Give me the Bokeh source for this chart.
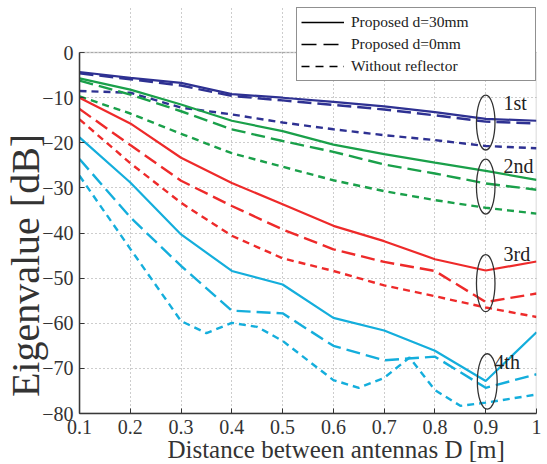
from bokeh.plotting import figure
from bokeh.models import Range1d, FixedTicker, Legend, LegendItem, BoxAnnotation
from bokeh.core.properties import value
from bokeh.embed import file_html
from bokeh.resources import INLINE

# ---------------- data ----------------
x_d = [0.1, 0.2, 0.3, 0.4, 0.5, 0.6, 0.7, 0.8, 0.9, 1.0]

blue_30 = [-4.3, -5.6, -6.7, -9.2, -10.0, -10.9, -11.9, -13.2, -14.7, -15.1]
blue_0 = [-4.6, -5.9, -7.3, -9.6, -10.6, -11.6, -12.6, -13.9, -15.3, -15.7]
blue_wo = [-8.5, -8.9, -12.2, -13.7, -15.5, -17.0, -18.3, -19.4, -20.7, -21.2]

green_30 = [-5.7, -8.2, -11.5, -15.1, -17.4, -20.4, -22.5, -24.4, -26.2, -28.2]
green_0 = [-6.2, -9.3, -13.0, -17.0, -19.6, -22.0, -24.8, -26.8, -29.0, -30.4]
green_wo = [-9.7, -13.5, -18.0, -22.3, -25.3, -28.3, -30.7, -32.7, -34.4, -35.7]

red_30 = [-10.0, -15.7, -23.3, -28.9, -33.6, -38.4, -41.8, -45.8, -48.3, -46.3]
red_0 = [-12.5, -20.5, -28.4, -34.0, -39.2, -43.6, -46.4, -48.4, -55.3, -53.4]
red_wo = [-14.8, -24.5, -33.3, -40.6, -45.6, -48.4, -51.6, -54.0, -56.5, -58.6]

cyan_30 = [-18.8, -28.8, -40.3, -48.4, -51.4, -58.8, -61.6, -66.1, -72.8, -62.0]
cyan_0 = [-23.6, -36.5, -47.3, -57.2, -57.8, -65.0, -68.2, -67.4, -74.3, -71.3]
x_cyan_wo = [0.1, 0.2, 0.3, 0.35, 0.4, 0.45, 0.5, 0.6, 0.65, 0.7, 0.75, 0.8, 0.85, 0.9, 1.0]
cyan_wo = [-27.3, -43.5, -59.5, -62.2, -59.9, -60.8, -63.9, -72.6, -74.3, -72.1, -67.6, -74.8, -78.3, -77.6, -75.8]

series_names = ["Proposed d=30mm", "Proposed d=0mm", "Without reflector"]

rank_labels = ["1st", "2nd", "3rd", "4th"]
rank_label_x = [0.935, 0.935, 0.935, 0.917]
rank_label_y = [-11.1, -25.1, -44.7, -68.6]

ell_x = [0.9, 0.9, 0.9, 0.903]
ell_y = [-15.5, -29.7, -51.1, -72.9]
ell_h = [12.2, 12.2, 12.7, 12.3]
ell_w = [0.0365, 0.0365, 0.0365, 0.039]

x_ticks = [0.1, 0.2, 0.3, 0.4, 0.5, 0.6, 0.7, 0.8, 0.9, 1.0]
x_tick_labels = ["0.1", "0.2", "0.3", "0.4", "0.5", "0.6", "0.7", "0.8", "0.9", "1"]
y_ticks = [-80, -70, -60, -50, -40, -30, -20, -10, 0]
y_tick_labels = ["\u221280", "\u221270", "\u221260", "\u221250", "\u221240", "\u221230", "\u221220", "\u221210", "0"]

x_title = "Distance between antennas D [m]"
y_title = "Eigenvalue [dB]"

# ---------------- styles ----------------
FONT = "Liberation Serif"
BLUE, GREEN, RED, CYAN = "#2E3192", "#1AA04A", "#EE2A2A", "#14AEDC"
LONG = "14 6"
SHORT = "7 5"
Y_MIN, Y_MAX, Y_TOP = -80, 0, 10.0
NB = "\u00a0"

p = figure(x_range=Range1d(0.1, 1.0), y_range=Range1d(Y_MIN, Y_TOP),
           frame_width=457, frame_height=406,
           output_backend="svg", toolbar_location=None,
           min_border_left=78, min_border_right=12, min_border_top=7, min_border_bottom=51)
p.background_fill_color = "white"
p.border_fill_color = "white"
p.outline_line_color = None

for ax in (p.xaxis[0], p.yaxis[0]):
    ax.axis_line_color = "#333333"
    ax.axis_line_width = 1.5
    ax.major_tick_in = 5
    ax.major_tick_out = 0
    ax.minor_tick_line_color = None
    ax.major_tick_line_color = "#333333"
    ax.major_label_text_font = FONT
    ax.major_label_text_font_size = "20px"
    ax.major_label_text_color = "#333333"
    ax.major_label_standoff = 6
    ax.axis_label_text_font = FONT
    ax.axis_label_text_font_style = "normal"
    ax.axis_label_text_color = "#333333"

p.yaxis.bounds = (Y_MIN, Y_MAX)
p.xaxis.ticker = FixedTicker(ticks=x_ticks)
p.xaxis.major_label_overrides = {t: s for t, s in zip(x_ticks, x_tick_labels)}
p.yaxis.ticker = FixedTicker(ticks=y_ticks)
p.yaxis.major_label_overrides = {t: s for t, s in zip(y_ticks, y_tick_labels)}

# titles are centred on the frame; non-breaking padding moves them to where the reference has them
p.xaxis.axis_label = NB * 9 + x_title
p.xaxis.axis_label_text_font_size = "25px"
p.xaxis.axis_label_standoff = -1
p.yaxis.axis_label = y_title + NB * 11
p.yaxis.axis_label_text_font_size = "40px"
p.yaxis.axis_label_standoff = -9

p.xgrid.ticker = FixedTicker(ticks=x_ticks)
p.ygrid.ticker = FixedTicker(ticks=y_ticks)
p.xgrid.bounds = (Y_MIN, Y_MAX)
for g in (p.xgrid[0], p.ygrid[0]):
    g.grid_line_color = "#9a9a9a"
    g.grid_line_dash = "1 3"
    g.grid_line_width = 1

# plot box (top and right edges of the data area)
p.add_layout(BoxAnnotation(left=0.1, right=1.0, bottom=Y_MIN, top=Y_MAX,
                           fill_alpha=0, line_color="#555555", line_width=1.5))

# ---------------- lines ----------------
for col, s30, s0, swo, xwo in [
    (BLUE, blue_30, blue_0, blue_wo, x_d),
    (GREEN, green_30, green_0, green_wo, x_d),
    (RED, red_30, red_0, red_wo, x_d),
    (CYAN, cyan_30, cyan_0, cyan_wo, x_cyan_wo),
]:
    p.line(x_d, s30, line_color=col, line_width=2.2)
    p.line(x_d, s0, line_color=col, line_width=2.4, line_dash=LONG)
    p.line(xwo, swo, line_color=col, line_width=2.4, line_dash=SHORT)

# ellipses and rank labels
p.ellipse(x=ell_x, y=ell_y, width=ell_w, height=ell_h, fill_alpha=0,
          line_color="#333333", line_width=1.3)
p.text(x=rank_label_x, y=rank_label_y, text=rank_labels,
       text_font=value(FONT), text_font_size="20px", text_color="#222222",
       text_baseline="middle", text_align="left")

# legend (style samples; renderers hold no visible data)
nan = float("nan")
r1 = p.line([nan], [nan], line_color="black", line_width=1.3)
r2 = p.line([nan], [nan], line_color="black", line_width=1.3, line_dash="15 7")
r3 = p.line([nan], [nan], line_color="black", line_width=1.3, line_dash="8 6")
legend = Legend(items=[LegendItem(label=series_names[0], renderers=[r1]),
                       LegendItem(label=series_names[1], renderers=[r2]),
                       LegendItem(label=series_names[2], renderers=[r3])],
                location="top_right", margin=0, padding=4, spacing=2,
                glyph_width=43, glyph_height=20, label_height=20,
                label_standoff=7, label_width=180,
                label_text_font=FONT, label_text_font_size="15.5px",
                label_text_color="#222222",
                border_line_color="#222222", border_line_width=1.2,
                background_fill_color="white", background_fill_alpha=1)
p.add_layout(legend, "center")

open("out.html", "w").write(file_html(p, INLINE))
